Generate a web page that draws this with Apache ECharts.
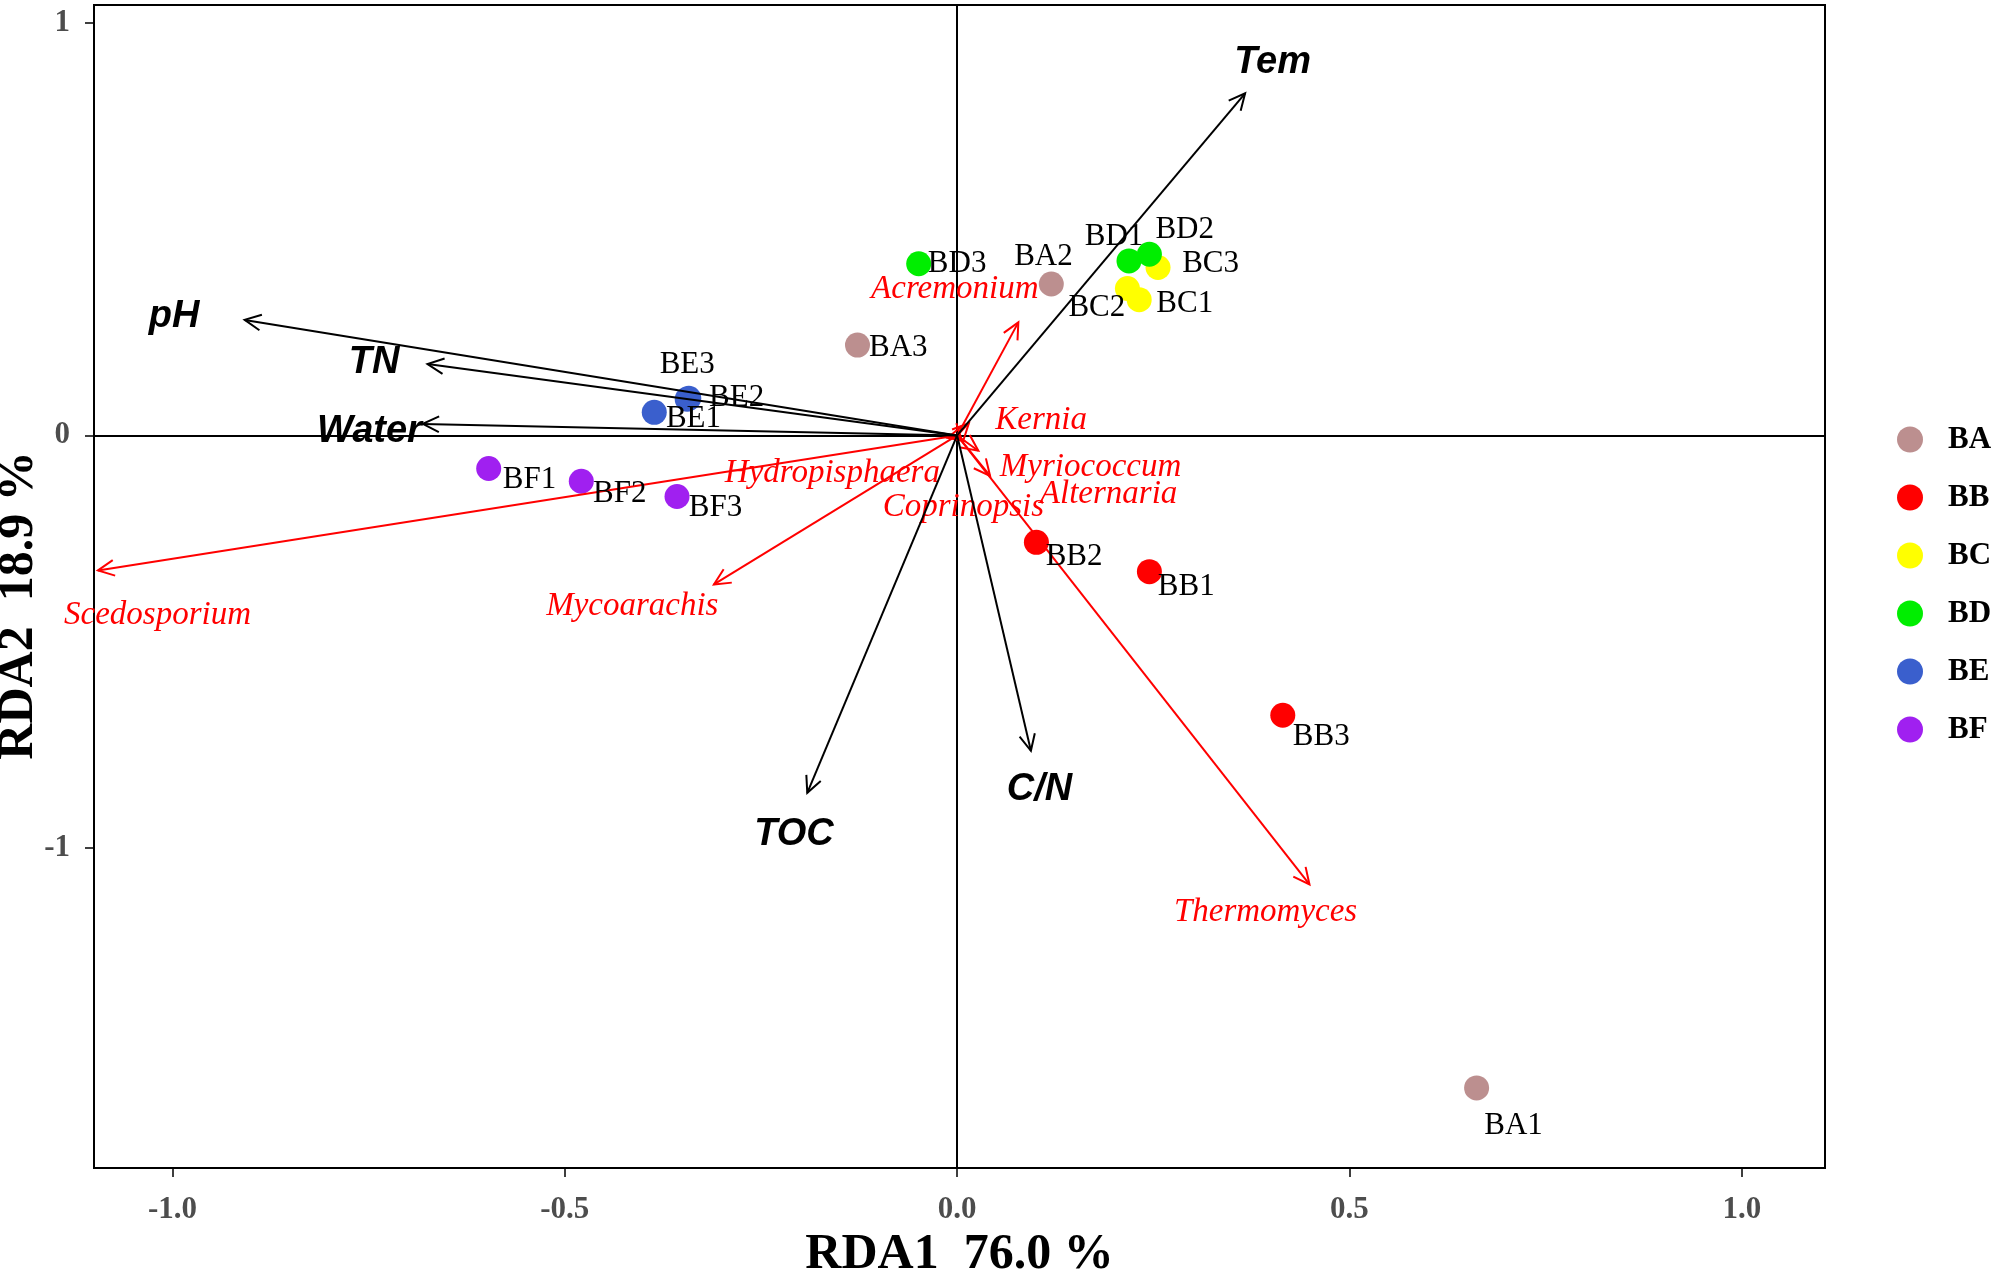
<!DOCTYPE html>
<html>
<head>
<meta charset="utf-8">
<script src="https://cdn.jsdelivr.net/npm/echarts@6/dist/echarts.min.js"></script>
<style>
  html, body { margin: 0; padding: 0; background: #fff; }
  #rda { width: 1995px; height: 1274px; }
</style>
</head>
<body>
<div id="rda"></div>
<script>
// 样本点 (RDA1, RDA2)
var sampleNames = ['BA1', 'BA2', 'BA3', 'BB1', 'BB2', 'BB3', 'BC1', 'BC2', 'BC3',
                   'BD1', 'BD2', 'BD3', 'BE1', 'BE2', 'BE3', 'BF1', 'BF2', 'BF3'];
var sampleX = [0.662, 0.120, -0.127, 0.245, 0.101, 0.415, 0.232, 0.217, 0.256,
               0.219, 0.245, -0.049, -0.386, -0.344, -0.342, -0.597, -0.479, -0.357];
var sampleY = [-1.581, 0.367, 0.219, -0.330, -0.259, -0.678, 0.329, 0.356, 0.407,
               0.423, 0.439, 0.416, 0.056, 0.088, 0.090, -0.080, -0.111, -0.148];
// 样本标签位置 (数据坐标)
var sampleLabelX = [0.709, 0.110, -0.075, 0.292, 0.149, 0.464, 0.290, 0.178, 0.323,
                    0.200, 0.290, 0.000, -0.336, -0.281, -0.344, -0.545, -0.430, -0.308];
var sampleLabelY = [-1.674, 0.432, 0.213, -0.367, -0.293, -0.730, 0.318, 0.308, 0.416,
                    0.481, 0.499, 0.416, 0.040, 0.092, 0.172, -0.108, -0.142, -0.176];

var groups = ['BA', 'BB', 'BC', 'BD', 'BE', 'BF'];
var groupColors = ['#BC8F8F', '#FF0000', '#FFFF00', '#00EE00', '#3A5FCD', '#A020F0'];

// 环境因子箭头
var envNames = ['Tem', 'pH', 'TN', 'Water', 'TOC', 'C/N'];
var envX = [0.367, -0.908, -0.675, -0.681, -0.191, 0.094];
var envY = [0.829, 0.280, 0.173, 0.028, -0.866, -0.764];
var envLabelX = [0.402, -0.998, -0.743, -0.749, -0.208, 0.105];
var envLabelY = [0.903, 0.287, 0.176, 0.009, -0.968, -0.857];

// 物种箭头
var speciesNames = ['Scedosporium', 'Mycoarachis', 'Hydropisphaera', 'Acremonium', 'Kernia',
                    'Myriococcum', 'Alternaria', 'Coprinopsis', 'Thermomyces'];
var speciesX = [-1.095, -0.310, -0.012, 0.078, 0.015, 0.042, 0.027, 0.006, 0.449];
var speciesY = [-0.327, -0.361, -0.006, 0.274, 0.030, -0.098, -0.037, -0.012, -1.088];
var speciesLabelX = [-1.019, -0.414, -0.159, -0.003, 0.107, 0.170, 0.193, 0.008, 0.393];
var speciesLabelY = [-0.435, -0.413, -0.092, 0.354, 0.037, -0.077, -0.142, -0.173, -1.156];

var xTicks = [-1, -0.5, 0, 0.5, 1];
var yTicks = [-1, 0, 1];

var serif = '"Liberation Serif", "Times New Roman", serif';
var sans = '"Liberation Sans", Arial, sans-serif';

// 箭头: 原点 -> (x, y), 开口箭头 + 文字
function arrowSeries(names, xs, ys, lxs, lys, color, font) {
    var data = [];
    for (var i = 0; i < names.length; i++) data.push([xs[i], ys[i], lxs[i], lys[i], names[i]]);
    return {
        type: 'custom',
        z: 5,
        silent: true,
        clip: false,
        data: data,
        encode: {x: 0, y: 1},
        renderItem: function (params, api) {
            var o = api.coord([0, 0]);
            var t = api.coord([api.value(0), api.value(1)]);
            var lp = api.coord([api.value(2), api.value(3)]);
            var ang = Math.atan2(t[1] - o[1], t[0] - o[0]);
            var L = 18, a = Math.PI / 7;
            var p1 = [t[0] - L * Math.cos(ang - a), t[1] - L * Math.sin(ang - a)];
            var p2 = [t[0] - L * Math.cos(ang + a), t[1] - L * Math.sin(ang + a)];
            return {
                type: 'group',
                children: [
                    {type: 'line', shape: {x1: o[0], y1: o[1], x2: t[0], y2: t[1]},
                        style: {stroke: color, lineWidth: 2}},
                    {type: 'polyline', shape: {points: [p1, t, p2]},
                        style: {stroke: color, fill: null, lineWidth: 2}},
                    {type: 'text', x: lp[0], y: lp[1],
                        style: {text: data[params.dataIndex][4], font: font, fill: color,
                            align: 'center', verticalAlign: 'middle'}}
                ]
            };
        }
    };
}

var series = [];
groups.forEach(function (g, gi) {
    var pts = [];
    for (var i = 0; i < sampleNames.length; i++) {
        if (sampleNames[i].indexOf(g) === 0) pts.push([sampleX[i], sampleY[i]]);
    }
    series.push({
        name: g,
        type: 'scatter',
        symbol: 'circle',
        symbolSize: 25,
        z: 3,
        itemStyle: {color: groupColors[gi], opacity: 1},
        data: pts,
        markLine: gi === 0 ? {
            silent: true,
            symbol: 'none',
            label: {show: false},
            lineStyle: {color: '#000', width: 2, type: 'solid'},
            data: [{xAxis: 0}, {yAxis: 0}]
        } : undefined
    });
});

var labelData = [];
for (var i = 0; i < sampleNames.length; i++) {
    labelData.push([sampleLabelX[i], sampleLabelY[i], sampleNames[i]]);
}
series.push({
    type: 'custom',
    z: 6,
    silent: true,
    clip: false,
    data: labelData,
    encode: {x: 0, y: 1},
    renderItem: function (params, api) {
        var p = api.coord([api.value(0), api.value(1)]);
        return {
            type: 'text', x: p[0], y: p[1],
            style: {text: labelData[params.dataIndex][2], font: '31px ' + serif, fill: '#000',
                align: 'center', verticalAlign: 'middle'}
        };
    }
});

series.push(arrowSeries(speciesNames, speciesX, speciesY, speciesLabelX, speciesLabelY,
    '#FF0000', 'italic 33px ' + serif));
series.push(arrowSeries(envNames, envX, envY, envLabelX, envLabelY,
    '#000000', 'italic bold 38px ' + sans));

var option = {
    backgroundColor: '#fff',
    animation: false,
    grid: {left: 94, right: 170, top: 5, bottom: 106, show: true,
        borderColor: '#000', borderWidth: 2, outerBoundsMode: 'none'},
    legend: {
        data: groups,
        orient: 'vertical',
        left: 1892,
        top: 419,
        icon: 'circle',
        itemWidth: 66,
        itemHeight: 26,
        itemGap: 27,
        textStyle: {fontFamily: serif, fontWeight: 'bold', fontSize: 31, color: '#000'}
    },
    xAxis: {
        type: 'value',
        min: -1.1,
        max: 1.106,
        name: 'RDA1  76.0 %',
        nameLocation: 'middle',
        nameGap: 58,
        nameTextStyle: {fontFamily: serif, fontWeight: 'bold', fontSize: 50, color: '#000'},
        splitLine: {show: false},
        axisLine: {onZero: false, lineStyle: {color: '#000', width: 2}},
        axisTick: {show: true, length: 9, customValues: xTicks, lineStyle: {color: '#000', width: 1.5}},
        axisLabel: {customValues: xTicks, margin: 26, fontFamily: serif, fontWeight: 'bold',
            fontSize: 31, color: '#4D4D4D',
            formatter: function (v) { return v.toFixed(1); }}
    },
    yAxis: {
        type: 'value',
        min: -1.775,
        max: 1.043,
        name: 'RDA2  18.9 %',
        nameLocation: 'middle',
        nameGap: 50,
        nameMoveOverlap: false,
        nameRotate: 90,
        nameTextStyle: {fontFamily: serif, fontWeight: 'bold', fontSize: 50, color: '#000',
            padding: [0, 38, 0, 0]},
        splitLine: {show: false},
        axisLine: {onZero: false, lineStyle: {color: '#000', width: 2}},
        axisTick: {show: true, length: 9, customValues: yTicks, lineStyle: {color: '#000', width: 1.5}},
        axisLabel: {customValues: yTicks, margin: 24, fontFamily: serif, fontWeight: 'bold',
            fontSize: 31, color: '#4D4D4D',
            formatter: function (v) { return String(Math.round(v)); }}
    },
    series: series
};

var myChart = echarts.init(document.getElementById('rda'));
myChart.setOption(option);
</script>
</body>
</html>
